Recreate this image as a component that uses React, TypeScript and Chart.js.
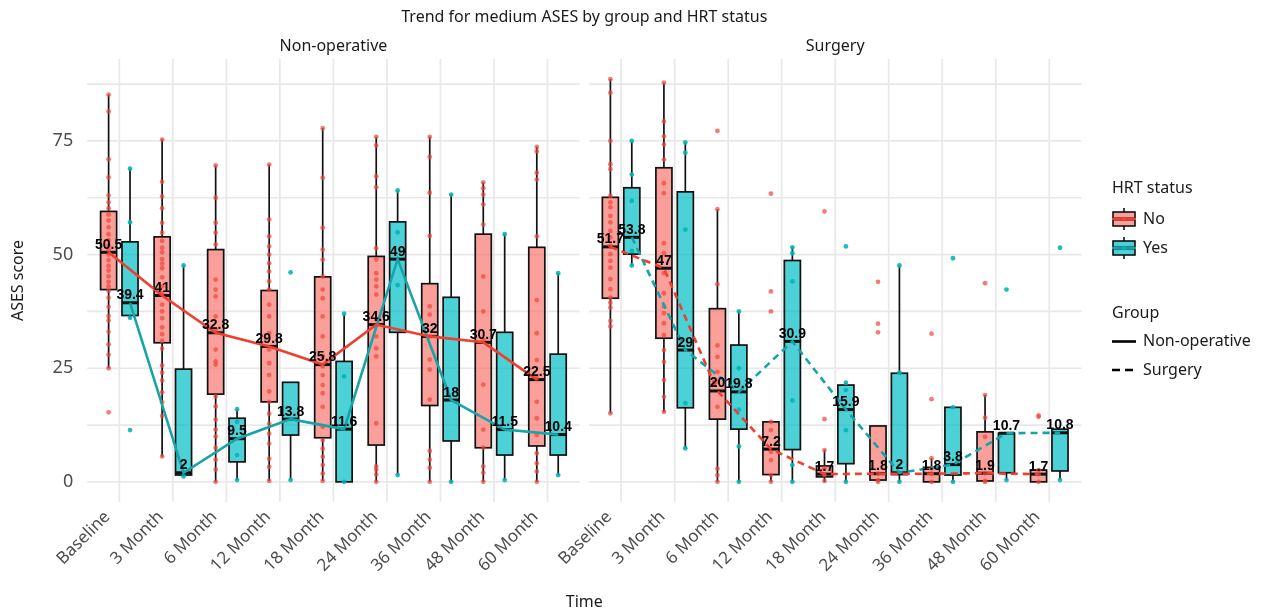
import React, { useEffect, useRef } from 'react';
import { Chart, registerables } from 'chart.js';
Chart.register(...registerables);

// ---------- data ----------
const timeLabels = ['Baseline', '3 Month', '6 Month', '12 Month', '18 Month', '24 Month', '36 Month', '48 Month', '60 Month'];
const groupLabels = ['Non-operative', 'Surgery'];
const hrtLabels = ['No', 'Yes'];
const yTickValues = [0, 25, 50, 75];
const yGridValues = [0, 12.5, 25, 37.5, 50, 62.5, 75, 87.5];

// Non-operative, HRT No
const nonopNoMedian = [50.5, 41, 32.8, 29.8, 25.8, 34.6, 32, 30.7, 22.5];
const nonopNoQ1 = [42.3, 30.6, 19.3, 17.6, 9.7, 8.1, 16.8, 7.5, 7.9];
const nonopNoQ3 = [59.5, 53.9, 51.1, 42.1, 45.1, 49.6, 43.6, 54.5, 51.6];
const nonopNoLow = [25, 5.5, 0, 0.2, 0.2, 0, 0, 0, 0];
const nonopNoHigh = [85.2, 75.3, 69.6, 69.8, 77.8, 75.9, 75.9, 65.9, 73.7];
// Non-operative, HRT Yes
const nonopYesMedian = [39.4, 2, 9.5, 13.8, 11.6, 49, 18, 11.5, 10.4];
const nonopYesQ1 = [36.6, 1.5, 4.4, 10.3, 0, 32.9, 9.0, 5.9, 5.9];
const nonopYesQ3 = [52.8, 24.8, 14.0, 21.9, 26.5, 57.2, 40.6, 32.9, 28.1];
const nonopYesLow = [36.1, 1.2, 0.4, 0.4, 0, 1.5, 0, 0.4, 1.5];
const nonopYesHigh = [68.9, 47.6, 16.0, 21.9, 37.0, 64.1, 63.2, 54.5, 45.9];
// Surgery, HRT No
const surgNoMedian = [51.7, 47, 20, 7.2, 1.7, 1.8, 1.8, 1.9, 1.7];
const surgNoQ1 = [40.4, 31.6, 13.8, 1.6, 1.1, 0.4, 0, 0.2, 0];
const surgNoQ3 = [62.6, 69.1, 38.1, 13.2, 3.5, 12.3, 3.2, 11, 2.6];
const surgNoLow = [15.1, 15.3, 0, 0, 0, 0, 0, 0, 0];
const surgNoHigh = [88.6, 87.8, 60, 13.2, 7, 12.3, 5.2, 19.1, 2.6];
// Surgery, HRT Yes
const surgYesMedian = [53.8, 29, 19.8, 30.9, 15.9, 2, 3.8, 10.7, 10.8];
const surgYesQ1 = [50.1, 16.3, 11.6, 7.1, 4.0, 1.6, 1.5, 2.0, 2.4];
const surgYesQ3 = [64.7, 63.8, 30.1, 48.7, 21.3, 23.9, 16.4, 10.7, 11.6];
const surgYesLow = [47.6, 7.4, 0, 0, 0, 0, 0, 0.4, 0.4];
const surgYesHigh = [75, 74.7, 37.5, 51.6, 21.8, 47.6, 16.4, 10.7, 11.6];

// individual observations
const nonopNoPoints = [
  [85.2, 81.5, 71, 67, 63, 61.5, 60.2, 58.8, 57.5, 56, 54.5, 53.2, 52, 51, 50, 48.8, 47.5, 46.5, 45.2, 44, 43, 42, 40.5, 38.5, 36.5, 35.5, 33, 30.2, 28, 25, 15.3],
  [75.3, 66, 62.8, 60.2, 57, 54.8, 53, 51.5, 50.5, 49, 48, 47, 45, 43, 41.5, 39, 37.5, 36, 34, 32.5, 31, 29.3, 25.6, 24, 22.3, 19.7, 17.5, 14.5, 5.6],
  [69.6, 62.5, 57, 54.8, 52.2, 44.5, 42.3, 40.8, 36.4, 33.5, 29.1, 26.5, 25.8, 18.8, 16.6, 13.7, 11.5, 10, 7.5, 4.9, 2.7, 0],
  [69.8, 57.7, 54, 51.8, 50, 48.1, 46.3, 44.1, 42.3, 39, 36.4, 32.7, 29.1, 26.1, 23.5, 19.9, 17.6, 15, 12.8, 10.6, 8.4, 5.1, 3.3, 0.2],
  [77.8, 66.9, 55.9, 51.1, 48.9, 45.2, 42.3, 40.4, 36.4, 32, 27.6, 25.4, 23.5, 21.3, 19.5, 16.5, 12.1, 9.2, 7.3, 5.5, 3.7, 1.8, 0.2],
  [75.9, 74, 67.2, 64.8, 51.4, 48.9, 45.9, 44.5, 43, 41.2, 35.7, 32, 29.4, 27.6, 12.9, 3.4, 2.7, 1.6, 0],
  [75.9, 71.5, 63.6, 54.1, 38.6, 36.8, 32, 26.9, 24.7, 18.1, 6.8, 4.9, 3.1, 0],
  [65.9, 64.6, 63.2, 61, 56.6, 45.2, 37.5, 31.3, 21.4, 11.5, 7.5, 3.4, 2, 0],
  [73.7, 72.7, 68, 66.5, 54, 40, 32.7, 26.8, 22.8, 17.6, 14, 10.3, 6.3, 4.1, 2.3, 0],
];
const nonopYesPoints = [
  [68.9, 57.1, 36.1, 11.4],
  [47.6, 1.2],
  [16, 13.2, 5.9, 0.4],
  [46.1, 0.4],
  [37, 23.2, 0],
  [64.1, 54.9, 43.3, 1.5],
  [63.2, 0],
  [54.5, 0.4],
  [45.9, 1.5],
];
const surgNoPoints = [
  [88.6, 85.6, 75, 69.9, 68.8, 62.9, 61.5, 60.4, 58.5, 57.1, 55.2, 53.8, 51.9, 50.1, 48.6, 47.1, 44.6, 42.4, 40.5, 39.4, 38.3, 35.4, 34.2, 15.1],
  [87.8, 79.3, 76, 74.2, 70.9, 65.7, 63.5, 52.5, 50.3, 45.9, 41.5, 38.6, 37.1, 34.9, 32.3, 29, 26.4, 22.4, 18.7, 15.4],
  [77.2, 60, 43.5, 30, 27.5, 24.2, 22, 16.5, 2.9, 1.5, 0],
  [63.4, 41.9, 37.5, 13.2, 11.4, 6.6, 4.8, 1.5, 0],
  [59.5, 13.8, 7, 3, 1.5, 0.2],
  [44, 34.8, 32.9, 1.8, 0.4, 0],
  [32.6, 18.2, 5.2, 3, 1.8, 0],
  [43.7, 19.1, 14.1, 9.9, 1.9, 0.2, 0],
  [14.6, 14.3, 2.6, 1.7, 0],
];
const surgYesPoints = [
  [75, 67.6, 61.8, 50.8, 47.6],
  [74.7, 72.4, 55.5, 17.3, 7.4],
  [37.5, 25, 15.9, 7.8, 0],
  [51.6, 50.3, 44.1, 17.9, 3.7, 0],
  [51.8, 21.8, 20.2, 11.4, 0],
  [47.6, 24, 0],
  [49.2, 16.4, 0],
  [42.3, 0.4],
  [51.5, 0.4],
];

// ---------- layout / style ----------
const N = timeLabels.length;
const EXPAND = 0.6;
const PANEL_GAP = 0.175;
const DODGE = 0.2;
const BOX_W = 0.3;
const PANEL_STEP = N - 1 + 2 * EXPAND + PANEL_GAP;
const catPos = (p: number, i: number) => 1 + i + p * PANEL_STEP;
const boxPos = (p: number, h: number, i: number) => catPos(p, i) + (h === 0 ? -DODGE : DODGE);
const X_MIN = catPos(0, 0) - EXPAND;
const X_MAX = catPos(1, N - 1) + EXPAND;

const FONT = '"Noto Sans", sans-serif';
const LABEL_FONT = 'bold 14px "Liberation Sans", Arial, sans-serif';
const TEXT = '#1A1A1A';
const TICK = '#4D4D4D';
const GRID = '#E8E8E8';
const FILLS = ['rgba(248,118,109,0.7)', 'rgba(0,191,196,0.7)'];
const LINES = ['#F03E2F', '#16A4A9'];
const POINTS = ['rgba(240,70,60,0.7)', 'rgba(0,180,186,0.88)'];
const DASH = [7, 5];

const boxSets = [
  { p: 0, h: 0, low: nonopNoLow, q1: nonopNoQ1, med: nonopNoMedian, q3: nonopNoQ3, high: nonopNoHigh, pts: nonopNoPoints },
  { p: 0, h: 1, low: nonopYesLow, q1: nonopYesQ1, med: nonopYesMedian, q3: nonopYesQ3, high: nonopYesHigh, pts: nonopYesPoints },
  { p: 1, h: 0, low: surgNoLow, q1: surgNoQ1, med: surgNoMedian, q3: surgNoQ3, high: surgNoHigh, pts: surgNoPoints },
  { p: 1, h: 1, low: surgYesLow, q1: surgYesQ1, med: surgYesMedian, q3: surgYesQ3, high: surgYesHigh, pts: surgYesPoints },
];

const seg = (ctx: CanvasRenderingContext2D, x1: number, y1: number, x2: number, y2: number) => {
  ctx.beginPath();
  ctx.moveTo(x1, y1);
  ctx.lineTo(x2, y2);
  ctx.stroke();
};

const facetPlugin = {
  id: 'facetBoxplot',
  beforeDatasetsDraw(chart: any) {
    const { ctx, chartArea } = chart;
    const x = chart.scales.x;
    const y = chart.scales.y;
    ctx.save();
    // panel grids
    for (let p = 0; p < groupLabels.length; p++) {
      const l = x.getPixelForValue(catPos(p, 0) - EXPAND);
      const r = x.getPixelForValue(catPos(p, N - 1) + EXPAND);
      ctx.strokeStyle = GRID;
      ctx.lineWidth = 1.7;
      yGridValues.forEach((v) => {
        const py = y.getPixelForValue(v);
        seg(ctx, l, py, r, py);
      });
      for (let i = 0; i < N; i++) {
        const px = x.getPixelForValue(catPos(p, i));
        seg(ctx, px, chartArea.top, px, chartArea.bottom);
      }
    }
    // boxplots
    boxSets.forEach((b) => {
      for (let i = 0; i < N; i++) {
        const c = boxPos(b.p, b.h, i);
        const cx = x.getPixelForValue(c);
        const l = x.getPixelForValue(c - BOX_W / 2);
        const r = x.getPixelForValue(c + BOX_W / 2);
        const yLow = y.getPixelForValue(b.low[i]);
        const yQ1 = y.getPixelForValue(b.q1[i]);
        const yMed = y.getPixelForValue(b.med[i]);
        const yQ3 = y.getPixelForValue(b.q3[i]);
        const yHigh = y.getPixelForValue(b.high[i]);
        ctx.strokeStyle = '#111';
        ctx.lineWidth = 1.7;
        ctx.setLineDash([]);
        seg(ctx, cx, yHigh, cx, yQ3);
        seg(ctx, cx, yQ1, cx, yLow);
        ctx.fillStyle = FILLS[b.h];
        ctx.fillRect(l, yQ3, r - l, yQ1 - yQ3);
        ctx.strokeRect(l, yQ3, r - l, yQ1 - yQ3);
        ctx.lineWidth = 3;
        seg(ctx, l, yMed, r, yMed);
      }
    });
    ctx.restore();
  },
  afterDatasetsDraw(chart: any) {
    const { ctx } = chart;
    const x = chart.scales.x;
    const y = chart.scales.y;
    ctx.save();
    ctx.font = LABEL_FONT;
    ctx.fillStyle = '#000';
    ctx.textAlign = 'center';
    ctx.textBaseline = 'alphabetic';
    boxSets.forEach((b) => {
      for (let i = 0; i < N; i++) {
        const cx = x.getPixelForValue(boxPos(b.p, b.h, i));
        const py = y.getPixelForValue(b.med[i]);
        ctx.fillText(String(b.med[i]), cx, py - 3.5);
      }
    });
    ctx.restore();
  },
  afterDraw(chart: any) {
    const { ctx, chartArea } = chart;
    const x = chart.scales.x;
    ctx.save();
    ctx.fillStyle = TEXT;
    ctx.font = `16px ${FONT}`;
    ctx.textBaseline = 'middle';
    ctx.textAlign = 'center';
    const midX = (chartArea.left + chartArea.right) / 2;
    ctx.fillText('Trend for medium ASES by group and HRT status', midX, 17);
    for (let p = 0; p < groupLabels.length; p++) {
      const l = x.getPixelForValue(catPos(p, 0) - EXPAND);
      const r = x.getPixelForValue(catPos(p, N - 1) + EXPAND);
      ctx.fillText(groupLabels[p], (l + r) / 2, 46);
    }
    ctx.fillText('Time', midX, 602);
    ctx.save();
    ctx.translate(18.5, (chartArea.top + chartArea.bottom) / 2);
    ctx.rotate(-Math.PI / 2);
    ctx.fillText('ASES score', 0, 0);
    ctx.restore();

    // legend
    const lx = 1112;
    ctx.textAlign = 'left';
    ctx.fillText('HRT status', lx, 188);
    const keyY = [219, 248];
    hrtLabels.forEach((lab, h) => {
      const cy = keyY[h];
      const cx = lx + 12;
      ctx.strokeStyle = '#111';
      ctx.lineWidth = 1.6;
      ctx.setLineDash([]);
      seg(ctx, cx, cy - 11, cx, cy + 11);
      ctx.fillStyle = '#fff';
      ctx.fillRect(lx + 1, cy - 7, 22, 14);
      ctx.fillStyle = FILLS[h];
      ctx.fillRect(lx + 1, cy - 7, 22, 14);
      ctx.strokeRect(lx + 1, cy - 7, 22, 14);
      ctx.lineWidth = 3;
      seg(ctx, lx + 1, cy, lx + 23, cy);
      ctx.strokeStyle = LINES[h];
      ctx.lineWidth = 2.5;
      seg(ctx, lx, cy, lx + 24, cy);
      ctx.fillStyle = POINTS[h];
      ctx.beginPath();
      ctx.arc(cx, cy, 2.2, 0, Math.PI * 2);
      ctx.fill();
      ctx.fillStyle = TEXT;
      ctx.fillText(lab, lx + 31, cy);
    });
    ctx.fillText('Group', lx, 313);
    const gY = [341.5, 370];
    groupLabels.forEach((lab, p) => {
      ctx.strokeStyle = '#000';
      ctx.lineWidth = 2.6;
      ctx.setLineDash(p === 0 ? [] : [8, 5]);
      seg(ctx, lx, gY[p], lx + 24, gY[p]);
      ctx.setLineDash([]);
      ctx.fillStyle = TEXT;
      ctx.fillText(lab, lx + 31, gY[p]);
    });
    ctx.restore();
  },
};

const allTickPositions = groupLabels.flatMap((_, p) => timeLabels.map((__, i) => catPos(p, i)));
const allTickLabels = groupLabels.flatMap(() => timeLabels);

export default function App() {
  const ref = useRef<HTMLCanvasElement | null>(null);
  useEffect(() => {
    if (!ref.current) return;
    const pointSets = boxSets.map((b) => ({
      type: 'scatter' as const,
      data: b.pts.flatMap((vals, i) => vals.map((v) => ({ x: boxPos(b.p, b.h, i), y: v }))),
      backgroundColor: POINTS[b.h],
      borderWidth: 0,
      pointRadius: 2.4,
      pointHoverRadius: 2.4,
      order: 2,
    }));
    const lineSets = boxSets.map((b) => ({
      type: 'scatter' as const,
      data: b.med.map((v, i) => ({ x: boxPos(b.p, b.h, i), y: v })),
      showLine: true,
      borderColor: LINES[b.h],
      borderWidth: 2.6,
      borderDash: b.p === 1 ? DASH : [],
      pointRadius: 0,
      pointHoverRadius: 0,
      fill: false,
      order: 1,
    }));
    const chart = new Chart(ref.current, {
      type: 'scatter',
      data: { datasets: [...lineSets, ...pointSets] as any },
      options: {
        animation: false,
        responsive: true,
        maintainAspectRatio: false,
        layout: { padding: { left: 0, top: 59, right: 181.6, bottom: 0 } },
        plugins: { legend: { display: false }, tooltip: { enabled: false }, title: { display: false } },
        events: [],
        scales: {
          x: {
            type: 'linear',
            min: X_MIN,
            max: X_MAX,
            grid: { display: false, drawTicks: false },
            border: { display: false },
            afterFit: (s: any) => { s.height = 110; },
            afterBuildTicks: (s: any) => { s.ticks = allTickPositions.map((v) => ({ value: v })); },
            ticks: {
              autoSkip: false,
              minRotation: 45,
              maxRotation: 45,
              padding: 5,
              labelOffset: -12,
              color: TICK,
              font: { family: FONT, size: 17 },
              callback: (_v: any, i: number) => allTickLabels[i],
            },
          },
          y: {
            type: 'linear',
            min: -4.43,
            max: 93.03,
            grid: { display: false, drawTicks: false },
            border: { display: false },
            afterFit: (s: any) => { s.width = 87.2; },
            afterBuildTicks: (s: any) => { s.ticks = yTickValues.map((v) => ({ value: v })); },
            ticks: {
              padding: 14,
              color: TICK,
              font: { family: FONT, size: 18 },
              callback: (v: any) => String(v),
            },
          },
        },
      },
      plugins: [facetPlugin],
    });
    return () => chart.destroy();
  }, []);
  return (
    <div style={{ position: 'fixed', left: 0, top: 0, width: 1263, height: 612, background: '#fff' }}>
      <canvas ref={ref} />
    </div>
  );
}
